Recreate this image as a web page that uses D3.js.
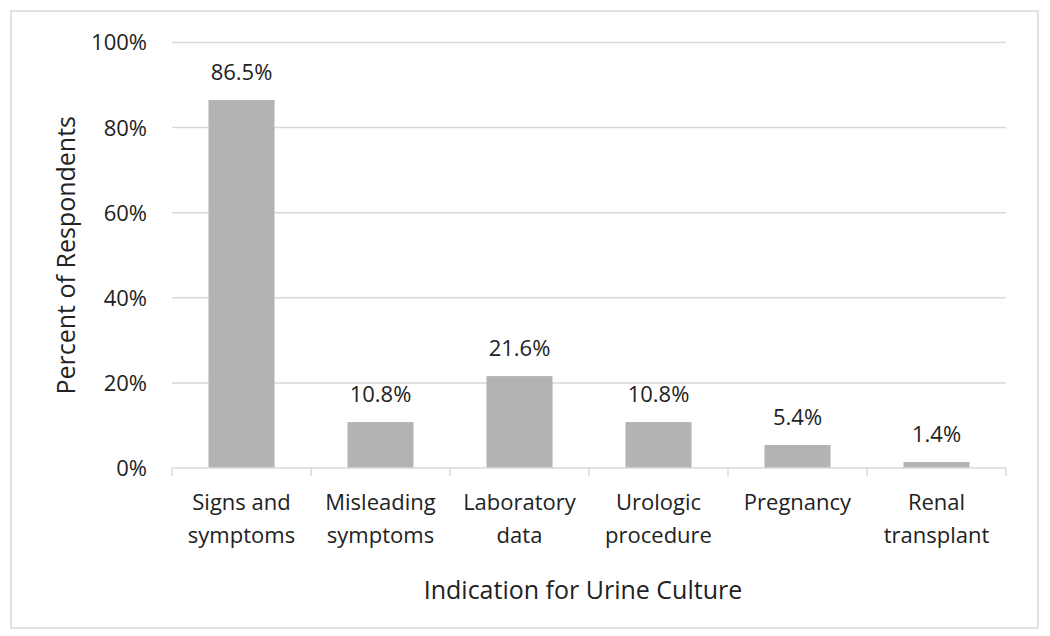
<!DOCTYPE html>
<html>
<head>
<meta charset="utf-8">
<script src="https://cdn.jsdelivr.net/npm/d3@7"></script>
<style>
  html, body { margin: 0; padding: 0; background: #fff; }
  svg { display: block; font-family: "Open Sans", "Noto Sans", sans-serif; }
</style>
</head>
<body>
<svg id="chart" width="1050" height="636"></svg>
<script>
const categories = ["Signs and symptoms", "Misleading symptoms", "Laboratory data", "Urologic procedure", "Pregnancy", "Renal transplant"];
const categoryLines = [["Signs and", "symptoms"], ["Misleading", "symptoms"], ["Laboratory", "data"], ["Urologic", "procedure"], ["Pregnancy"], ["Renal", "transplant"]];
const values = [86.5, 10.8, 21.6, 10.8, 5.4, 1.4];
const yTicks = [0, 20, 40, 60, 80, 100];
const yTitle = "Percent of Respondents";
const xTitle = "Indication for Urine Culture";

const svg = d3.select("#chart");
const plot = { left: 172, right: 1006, top: 42.5, bottom: 468 };
const textColor = "#222";
const fontSize = 22;

// outer border
svg.append("rect")
  .attr("x", 11).attr("y", 11)
  .attr("width", 1027).attr("height", 617)
  .attr("fill", "#fff").attr("stroke", "#d9d9d9").attr("stroke-width", 1.5);

const x = d3.scaleBand()
  .domain(categories)
  .range([plot.left, plot.right])
  .paddingInner(0.525)
  .paddingOuter(0.2625);

const y = d3.scaleLinear().domain([0, 100]).range([plot.bottom, plot.top]);

// gridlines
svg.append("g").selectAll("line")
  .data(yTicks.filter(t => t > 0))
  .join("line")
  .attr("x1", plot.left).attr("x2", plot.right)
  .attr("y1", d => y(d)).attr("y2", d => y(d))
  .attr("stroke", "#d9d9d9").attr("stroke-width", 1.5);

// y tick labels
svg.append("g").selectAll("text")
  .data(yTicks)
  .join("text")
  .attr("x", 147)
  .attr("y", d => y(d))
  .attr("dy", "0.36em")
  .attr("text-anchor", "end")
  .attr("font-size", fontSize)
  .attr("fill", textColor)
  .text(d => d + "%");

// bars
svg.append("g").selectAll("rect")
  .data(values)
  .join("rect")
  .attr("x", (d, i) => x(categories[i]))
  .attr("width", x.bandwidth())
  .attr("y", d => y(d))
  .attr("height", d => y(0) - y(d))
  .attr("fill", "#b3b3b3");

// x axis line and boundary ticks
const step = x.step();
const boundaries = d3.range(categories.length + 1).map(i => plot.left + i * step);
svg.append("line")
  .attr("x1", plot.left).attr("x2", plot.right)
  .attr("y1", y(0)).attr("y2", y(0))
  .attr("stroke", "#d9d9d9").attr("stroke-width", 1.5);
svg.append("g").selectAll("line")
  .data(boundaries)
  .join("line")
  .attr("x1", d => d).attr("x2", d => d)
  .attr("y1", y(0)).attr("y2", y(0) + 8)
  .attr("stroke", "#d9d9d9").attr("stroke-width", 1.5);

// data labels
svg.append("g").selectAll("text")
  .data(values)
  .join("text")
  .attr("x", (d, i) => x(categories[i]) + x.bandwidth() / 2)
  .attr("y", d => y(d) - 20)
  .attr("text-anchor", "middle")
  .attr("font-size", fontSize)
  .attr("fill", textColor)
  .text(d => d.toFixed(1) + "%");

// category labels
const catG = svg.append("g");
categories.forEach((c, i) => {
  const cx = x(c) + x.bandwidth() / 2;
  const t = catG.append("text")
    .attr("x", cx)
    .attr("y", 510)
    .attr("text-anchor", "middle")
    .attr("font-size", fontSize)
    .attr("fill", textColor);
  categoryLines[i].forEach((line, j) => {
    t.append("tspan")
      .attr("x", cx)
      .attr("dy", j === 0 ? 0 : 33)
      .text(line);
  });
});

// axis titles
svg.append("text")
  .attr("x", (plot.left + plot.right) / 2 - 6)
  .attr("y", 599)
  .attr("text-anchor", "middle")
  .attr("font-size", 25)
  .attr("fill", textColor)
  .text(xTitle);

svg.append("text")
  .attr("transform", `translate(75, ${(plot.top + plot.bottom) / 2}) rotate(-90)`)
  .attr("text-anchor", "middle")
  .attr("font-size", 25)
  .attr("fill", textColor)
  .text(yTitle);
</script>
</body>
</html>
